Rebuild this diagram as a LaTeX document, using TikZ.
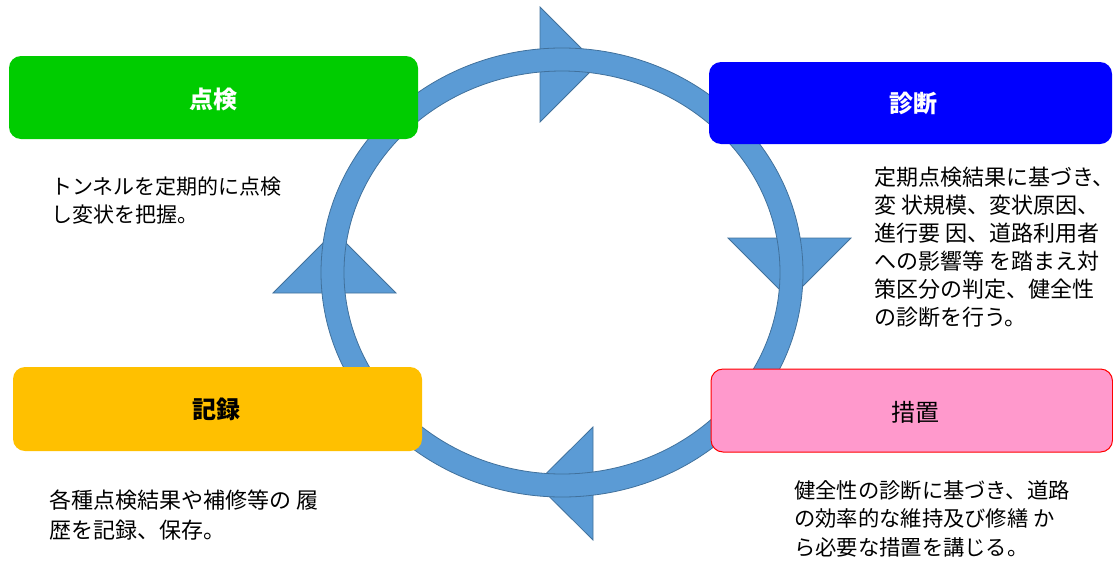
\documentclass[tikz,border=0pt]{standalone}
\usepackage{fontspec}
\newfontfamily\jp{Noto Sans CJK JP}
\definecolor{ringfill}{HTML}{5B9BD5}
\definecolor{ringline}{HTML}{41719C}
\definecolor{kgreen}{HTML}{00CC00}
\definecolor{kblue}{HTML}{0000FF}
\definecolor{kyellow}{HTML}{FFC000}
\definecolor{kpink}{HTML}{FF99CC}
\tikzset{
  arrowtri/.style={fill=ringfill, draw=ringline, line width=0.8pt, line join=miter},
  ringshape/.style={fill=ringfill, draw=ringline, line width=0.8pt, even odd rule},
  stagebox/.style={rounded corners=12pt, draw=none},
  titletext/.style={font=\jp\fontsize{24}{28}\selectfont},
  bodytext/.style={font=\jp\fontsize{21}{28}\selectfont, align=left, inner sep=0pt, anchor=west}
}
\begin{document}
\begin{tikzpicture}[x=1pt,y=-1pt]
\useasboundingbox (0,0) rectangle (1113,560);
% arrow triangles
\draw[arrowtri] (540,7) -- (597.5,64.5) -- (540,122) -- cycle;
\draw[arrowtri] (728,238) -- (851,238) -- (789.5,299.5) -- cycle;
\draw[arrowtri] (593,427) -- (593,540) -- (536,483.5) -- cycle;
\draw[arrowtri] (273,293) -- (396,293) -- (334.5,231.5) -- cycle;
% ring
\path[ringshape] (562,272.5) ellipse [x radius=241, y radius=224.5]
                 (562,272.5) ellipse [x radius=218, y radius=201.5];
% boxes
\fill[stagebox, kgreen] (9,56) rectangle (418,139);
\node[titletext, text=white] (tenken) at (213.5,99) {\bfseries 点検};
\fill[stagebox, kblue] (709,62) rectangle (1112,144);
\node[titletext, text=white] (shindan) at (913,103) {\bfseries 診断};
\fill[stagebox, kyellow] (13,367) rectangle (422,451);
\node[titletext, text=black] (kiroku) at (216,409) {\bfseries 記録};
\filldraw[stagebox, fill=kpink, draw=red, line width=1pt] (711,369) rectangle (1112.5,452);
\node[titletext, text=black] (sochi) at (915,412) {措置};
% body texts
\node[bodytext] (tenkenText) at (51,201) {トンネルを定期的に点検\\し変状を把握。};
\node[bodytext, font=\jp\fontsize{22}{28}\selectfont] (shindanText) at (874,247.5) {定期点検結果に基づき、\\変 状規模、変状原因、\\進行要 因、道路利用者\\への影響等 を踏まえ対\\策区分の判定、健全性\\の診断を行う。};
\node[bodytext, font=\jp\fontsize{22}{29.5}\selectfont] (kirokuText) at (49,515) {各種点検結果や補修等の 履\\歴を記録、保存。};
\node[bodytext, font=\jp\fontsize{21.3}{28.5}\selectfont] (sochiText) at (794,518.5) {健全性の診断に基づき、道路\\の効率的な維持及び修繕 か\\ら必要な措置を講じる。};
\end{tikzpicture}
\end{document}
